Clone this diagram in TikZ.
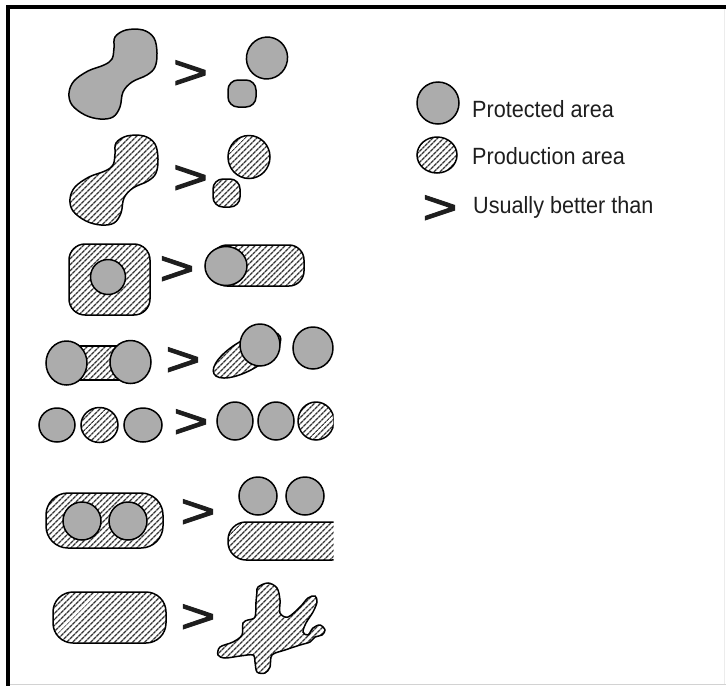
\documentclass[tikz,border=0pt]{standalone}
\usepackage{graphicx}
\usepackage{fontspec}
\setmainfont{Liberation Sans}
\newfontfamily\legendfont[FakeStretch=0.92]{Liberation Sans}
\newfontfamily\gtfont[FakeBold=2]{Liberation Sans}
\usetikzlibrary{patterns.meta}
\definecolor{protgray}{RGB}{172,172,172}
\definecolor{inkgray}{RGB}{30,30,30}

\begin{document}
\begin{tikzpicture}[x=1pt,y=-1pt,
    protected/.style={fill=protgray, draw=black, line width=1.5pt},
    production/.style={pattern={Lines[angle=45,distance=4pt,line width=1.5pt]},
      pattern color=inkgray!90, draw=black, line width=1.5pt},
    better/.style={inner sep=0pt, anchor=base, text=inkgray,
      font=\gtfont\fontsize{48}{48}\selectfont},
    legend/.style={inner sep=0pt, anchor=base west, text=inkgray,
      font=\legendfont\fontsize{23.5}{28}\selectfont}]
    \useasboundingbox (0,0) rectangle (726,686);

    % frame
    \draw[line width=4pt] (726,7) -- (8,7) -- (8,686);
    \draw[gray!35, line width=1pt] (10,684) -- (726,684);
    \draw[gray!15, line width=1pt] (724.5,9) -- (724.5,684);

    \begin{scope}
    \clip (0,0) rectangle (333.5,686);

    % row 1: one large protected area > two small ones
    \draw[protected] plot[smooth cycle, tension=0.6] coordinates {(115,37) (126,30) (143,30) (154,38)
      (157,53) (155,67) (147,75) (132,82) (123,92) (120,107) (113,117) (100,119) (85,115) (72,105)
      (69,93) (74,81) (88,71) (104,65) (112,59) (114,48)};
    \node[better] (gt1) at (190.5,88.5) {\scalebox{1.25}[1]{>}};
    \draw[protected] (267,58) ellipse [x radius=20.5pt, y radius=21pt, rotate=-20];
    \draw[protected, rounded corners=10pt] (228,80) rectangle (256,107);

    % row 2: one large production area > two small ones
    \draw[production, shift={(1,106)}] plot[smooth cycle, tension=0.6] coordinates {(115,37) (126,30)
      (143,30) (154,38) (157,53) (155,67) (147,75) (132,82) (123,92) (120,107) (113,117) (100,119)
      (85,115) (72,105) (69,93) (74,81) (88,71) (104,65) (112,59) (114,48)};
    \node[better] (gt2) at (190.5,193.5) {\scalebox{1.25}[1]{>}};
    \draw[production] (249,157) ellipse [x radius=21pt, y radius=21.5pt];
    \draw[production, rounded corners=10pt] (213,179) rectangle (240,207);

    % row 3: buffer all round > buffer on one side
    \draw[production, rounded corners=16pt] (69,244) rectangle (150,315);
    \draw[protected] (108,277) ellipse [x radius=17.5pt, y radius=17.5pt];
    \node[better] (gt3) at (177,284.5) {\scalebox{1.25}[1]{>}};
    \draw[production, rounded corners=15pt] (212,245) rectangle (304,286);
    \draw[protected] (226,266) ellipse [x radius=21pt, y radius=19.5pt];

    % row 4: linked > unlinked
    \draw[production] (66,346) rectangle (130,380);
    \draw[protected] (66.5,363) ellipse [x radius=20.5pt, y radius=22pt];
    \draw[protected] (130.5,362) ellipse [x radius=20.5pt, y radius=21.5pt];
    \node[better] (gt4) at (183,375.5) {\scalebox{1.25}[1]{>}};
    \draw[production] (247,355) ellipse [x radius=38pt, y radius=15pt, rotate=30];
    \draw[protected] (260,345) ellipse [x radius=20pt, y radius=21pt];
    \draw[protected] (313,348) ellipse [x radius=20pt, y radius=21pt];

    % row 5: production between > production at the end
    \draw[protected] (57,425) ellipse [x radius=18pt, y radius=17pt];
    \draw[production] (99.5,425) ellipse [x radius=18.5pt, y radius=17.5pt];
    \draw[protected] (143,425) ellipse [x radius=19pt, y radius=17pt];
    \node[better] (gt5) at (191,437.5) {\scalebox{1.25}[1]{>}};
    \draw[protected] (235,421) ellipse [x radius=18pt, y radius=19pt];
    \draw[protected] (276,421) ellipse [x radius=18pt, y radius=19pt];
    \draw[production] (316,421) ellipse [x radius=18pt, y radius=19pt];

    % row 6: embedded > separated
    \draw[production, rounded corners=22pt] (46,493) rectangle (163,548);
    \draw[protected] (82,521) ellipse [x radius=19pt, y radius=19pt];
    \draw[protected] (128,521) ellipse [x radius=19pt, y radius=19pt];
    \node[better] (gt6) at (198,527.5) {\scalebox{1.25}[1]{>}};
    \draw[protected] (258,496) ellipse [x radius=19pt, y radius=19pt];
    \draw[protected] (305,496) ellipse [x radius=19pt, y radius=19pt];
    \draw[production, rounded corners=18pt] (228,522) rectangle (350,560);

    % row 7: compact > ragged
    \draw[production, rounded corners=20pt] (53,592) rectangle (166,643);
    \node[better] (gt7) at (198,632.5) {\scalebox{1.25}[1]{>}};
    \draw[production] plot[smooth cycle, tension=0.55] coordinates {(258,587) (268,583) (277,588)
      (280,600) (280,613) (288,617) (300,607) (308,598) (315,596) (317,602) (313,612) (306,623)
      (303,632) (308,635) (313,628) (320,625) (325,630) (322,635) (315,637) (310,642) (300,645)
      (285,650) (272,655) (270,667) (265,673) (257,672) (255,662) (253,655) (240,656) (225,658)
      (218,655) (220,647) (233,642) (242,635) (243,623) (248,620) (255,617) (256,602) (257,592)};
    \end{scope}

    % legend
    \draw[protected] (438,103) ellipse [x radius=21pt, y radius=21pt];
    \node[legend] (protlabel) at (472,117) {Protected area};
    \draw[production] (437,155) ellipse [x radius=20pt, y radius=18pt];
    \node[legend] (prodlabel) at (472,164) {Production area};
    \node[better] (gtleg) at (440,223.5) {\scalebox{1.25}[1]{>}};
    \node[legend] (betterlabel) at (473,213) {Usually better than};
  \end{tikzpicture}
\end{document}
